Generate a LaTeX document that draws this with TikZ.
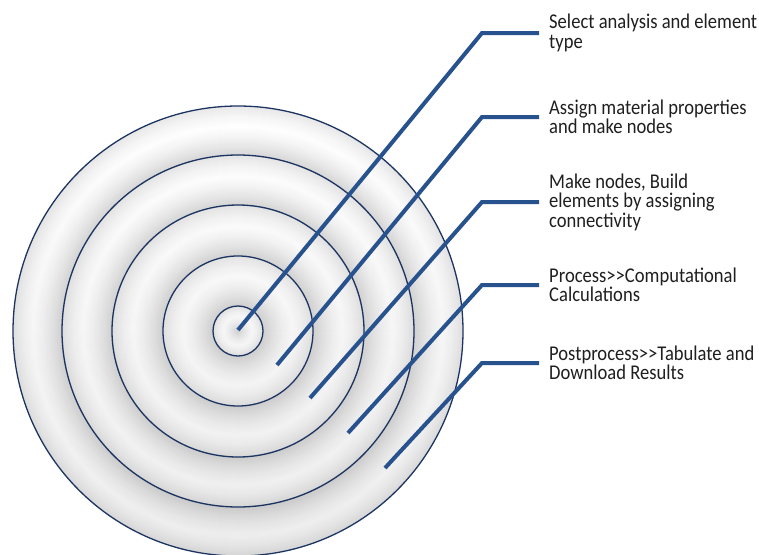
\documentclass[tikz,border=0pt]{standalone}
\usepackage{fontspec}
\setmainfont{Carlito}
\newfontfamily\lblfont{Carlito}[FakeStretch=0.885]
\definecolor{ringnavy}{RGB}{28,52,98}
\definecolor{leadblue}{RGB}{40,82,142}
\begin{document}
\begin{tikzpicture}[x=1pt, y=-1pt,
    ring/.style={draw=ringnavy, line width=1.3pt},
    lead/.style={draw=leadblue, line width=4pt},
    lbl/.style={anchor=west, align=left, inner xsep=10pt, inner ysep=0pt,
      font=\lblfont\fontsize{21}{19.5}\selectfont, text=black!88}
  ]
  \useasboundingbox (0,0) rectangle (759,554);
  \coordinate (c) at (238,331);
  % grooved bands of the target, filled from the outside in
  \foreach \r in {225,224,...,1} {
    \pgfmathsetmacro{\t}{\r>25 ? mod(\r-25.001,50)/50 : \r/25}
    \pgfmathsetmacro{\g}{17*max(abs(\t-0.6)/0.6,0.001)^1.4}
    \fill[black!\g] (c) circle (\r);
  }
  \shade[top color=white, bottom color=black, opacity=0.07] (c) circle (225);
  \foreach \r in {225,176,126,75,25} {
    \draw[ring] (c) circle (\r);
  }
  % labels
  \foreach \y/\txt [count=\i] in {
      33/{Select analysis and element\\type},
      117/{Assign material properties\\and make nodes},
      202/{Make nodes, Build\\elements by assigning\\connectivity},
      285/{Process>\kern0pt>Computational\\Calculations},
      363/{Postprocess>\kern0pt>Tabulate and\\Download Results}} {
    \node[lbl] (t\i) at (539,\y) {\txt};
  }
  % leaders into the rings
  \foreach \ex/\ey [count=\i] in {238/330, 277/365, 310/398, 348/433, 385/468} {
    \coordinate (e\i) at (\ex,\ey);
    \coordinate (b\i) at (482,0 |- t\i.west);
    \draw[lead] (e\i) -- (b\i) -- (t\i.west);
  }
\end{tikzpicture}
\end{document}
